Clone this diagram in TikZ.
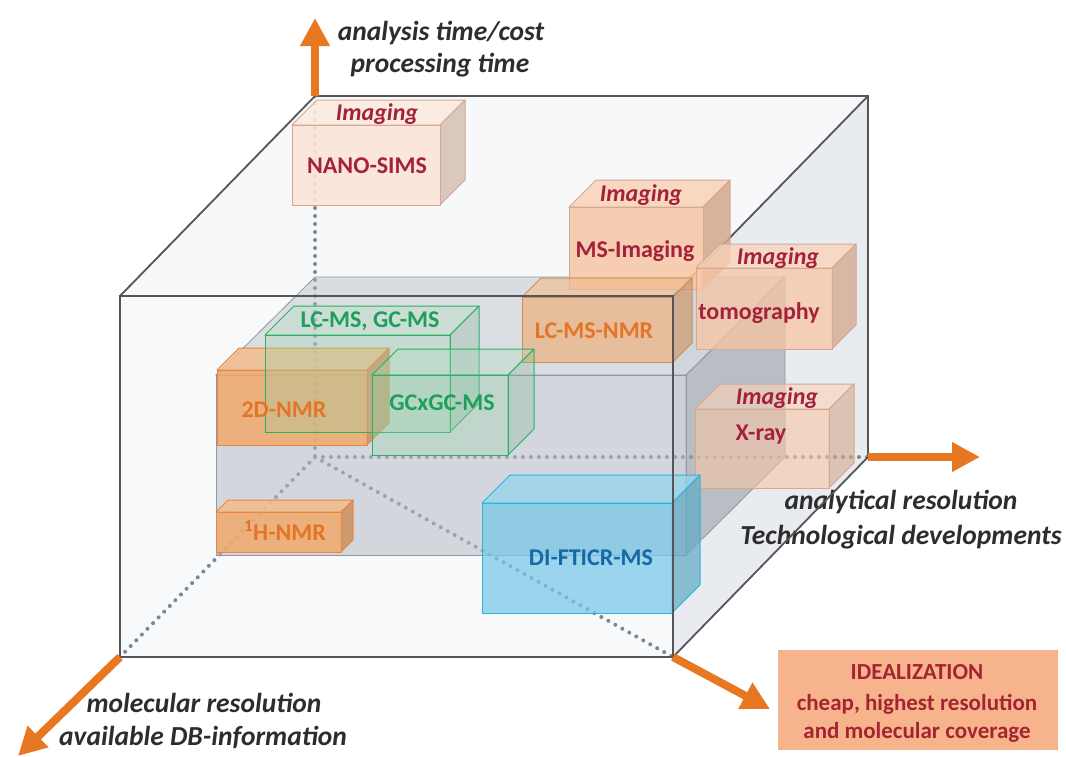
\documentclass[tikz,border=0pt]{standalone}
\usepackage{fontspec}
\setmainfont{Carlito}
\usetikzlibrary{arrows.meta}
\definecolor{axisor}{RGB}{232,119,34}
\definecolor{edgegray}{RGB}{85,85,88}
\definecolor{dotgray}{RGB}{128,134,144}
\definecolor{innergray}{RGB}{182,188,198}
\definecolor{topface}{RGB}{247,248,249}
\definecolor{rightface}{RGB}{232,235,239}
\definecolor{frontface}{RGB}{248,249,250}
\definecolor{peachlight}{RGB}{251,229,216}
\definecolor{peach}{RGB}{248,198,165}
\definecolor{peachedge}{RGB}{214,168,146}
\definecolor{crimson}{RGB}{165,32,58}
\definecolor{nmrfill}{RGB}{240,170,108}
\definecolor{nmredge}{RGB}{232,135,66}
\definecolor{nmrtext}{RGB}{228,116,38}
\definecolor{gfill}{RGB}{150,212,170}
\definecolor{gedge}{RGB}{40,178,100}
\definecolor{gtext}{RGB}{28,160,92}
\definecolor{bfill}{RGB}{118,200,232}
\definecolor{bedge}{RGB}{38,182,226}
\definecolor{btext}{RGB}{24,104,168}
\definecolor{idealfill}{RGB}{247,180,140}
\definecolor{idealtext}{RGB}{165,36,52}
\definecolor{labelgray}{RGB}{45,45,45}

% x1,y1,x2,y2 (front face), depth, fill, edge, opacity
\newcommand{\cuboid}[8]{%
  \filldraw[fill=#6!78!white,draw=#7,fill opacity=#8,line width=1pt,line join=round]
    (#1,#2) -- (#1+#5,#2-#5) -- (#3+#5,#2-#5) -- (#3,#2) -- cycle;
  \filldraw[fill=#6!85!black,draw=#7,fill opacity=#8,line width=1pt,line join=round]
    (#3,#2) -- (#3+#5,#2-#5) -- (#3+#5,#4-#5) -- (#3,#4) -- cycle;
  \filldraw[fill=#6,draw=#7,fill opacity=#8,line width=1pt]
    (#1,#2) rectangle (#3,#4);
}

\begin{document}
\begin{tikzpicture}[x=1pt,y=-1pt,
  cubeedge/.style={draw=edgegray,line width=1.8pt},
  dotline/.style={draw=dotgray,line width=4pt,line cap=round,dash pattern=on 0pt off 8pt},
  axarrow/.style={draw=axisor,line width=8pt,-{Triangle[length=28pt,width=28pt]}},
  txt/.style={inner sep=0pt,text height=1.5ex,text depth=.25ex,yshift=-5pt},
  boxlab/.style={txt,font=\fontsize{24}{28}\selectfont\bfseries},
  imglab/.style={txt,font=\fontsize{24}{28}\selectfont\bfseries\itshape,text=crimson},
  axlab/.style={txt,font=\fontsize{27.5}{32}\selectfont\bfseries\itshape,text=labelgray},
  idlab/.style={txt,font=\fontsize{23}{27}\selectfont\bfseries,text=idealtext}]

\useasboundingbox[fill=white] (0,0) rectangle (1066,756);

% cube corners
\coordinate (FTL) at (120,296);
\coordinate (FTR) at (673,296);
\coordinate (FBR) at (673,657);
\coordinate (FBL) at (120,657);
\coordinate (BTL) at (315,96);
\coordinate (BTR) at (868,96);
\coordinate (BBR) at (868,457);
\coordinate (O) at (315,457);

% cube faces
\fill[topface] (FTL) -- (BTL) -- (BTR) -- (FTR) -- cycle;
\fill[rightface] (FTR) -- (BTR) -- (BBR) -- (FBR) -- cycle;
\fill[frontface] (FTL) rectangle (FBR);

% back edges
\draw[cubeedge] (BTL) -- (BTR) -- (BBR);
\draw[cubeedge] (FTR) -- (BTR);
\draw[dotline] (BTL) -- (O);
\draw[dotline] (O) -- (BBR);
\draw[dotline] (O) -- (FBL);
\draw[dotline] (O) -- (FBR);

% inner grey box
\coordinate (IBTL) at (315,277);
\coordinate (IBTR) at (785,277);
\coordinate (IBBR) at (785,457);
\coordinate (IFTL) at (216,375);
\coordinate (IFTR) at (686,375);
\coordinate (IFBR) at (686,555);
\coordinate (IFBL) at (216,555);
\filldraw[fill=innergray,fill opacity=0.45,draw=innergray!80!black,line width=0.8pt]
  (IFTL) -- (IBTL) -- (IBTR) -- (IFTR) -- cycle;
\filldraw[fill=innergray!85!black,fill opacity=0.6,draw=innergray!80!black,line width=0.8pt]
  (IFTR) -- (IBTR) -- (IBBR) -- (IFBR) -- cycle;
\filldraw[fill=innergray,fill opacity=0.55,draw=innergray!80!black,line width=0.8pt]
  (IFTL) rectangle (IFBR);

% boxes (back to front)
\cuboid{292}{125}{440}{205}{25}{peachlight}{peachedge}{0.9}
\cuboid{569}{207}{703}{289}{27}{peach}{peachedge}{0.85}
\cuboid{522}{297}{673}{362}{19}{nmrfill}{nmrfill!85!black}{0.6}
\cuboid{696}{268}{832}{349}{24}{peach}{peachedge}{0.75}
\cuboid{695}{409}{829}{488}{25}{peach}{peachedge}{0.6}
\cuboid{217}{370}{367}{445}{22}{nmrfill}{nmredge}{0.85}
\cuboid{265}{335}{450}{432}{29}{gfill}{gedge}{0.3}
\cuboid{372}{375}{508}{455}{26}{gfill}{gedge}{0.3}
\cuboid{216}{512}{341}{552}{12}{nmrfill}{nmredge}{0.85}
\cuboid{482}{503}{672}{613}{28}{bfill}{bedge}{0.72}

% box labels
\node[imglab] (img1) at (377,113) {Imaging};
\node[boxlab,text=crimson] (nano) at (367,166) {NANO-SIMS};
\node[imglab] (img2) at (641,194) {Imaging};
\node[boxlab,text=crimson] (msi) at (635,250) {MS-Imaging};
\node[imglab] (img3) at (778,257) {Imaging};
\node[boxlab,text=crimson] (tomo) at (759,312) {tomography};
\node[imglab] (img4) at (777,397) {Imaging};
\node[boxlab,text=crimson] (xray) at (761,433) {X-ray};
\node[boxlab,text=nmrtext] (lcmsnmr) at (594,331) {LC-MS-NMR};
\node[boxlab,text=gtext] (lcms) at (370,320) {LC-MS, GC-MS};
\node[boxlab,text=nmrtext] (nmr2d) at (284,410) {2D-NMR};
\node[boxlab,text=gtext] (gcgc) at (442,403) {GCxGC-MS};
\node[boxlab,text=nmrtext] (hnmr) at (285,533) {\textsuperscript{1}H-NMR};
\node[boxlab,text=btext] (fticr) at (591,558) {DI-FTICR-MS};

% axis labels
\node[axlab] (ax1a) at (441,33) {analysis time/cost};
\node[axlab] (ax1b) at (440,65) {processing time};
\node[axlab] (ax2a) at (901,502) {analytical resolution};
\node[axlab] (ax2b) at (901,537) {Technological developments};
\node[axlab] (ax3a) at (204,705) {molecular resolution};
\node[axlab] (ax3b) at (203,738) {available DB-information};

% idealization box
\node[fill=idealfill,minimum width=280pt,minimum height=100pt,inner sep=0pt] (ideal) at (918,700) {};
\node[idlab] (id1) at (917,672) {IDEALIZATION};
\node[idlab] (id2) at (917,703) {cheap, highest resolution};
\node[idlab] (id3) at (917,731) {and molecular coverage};

% front edges
\draw[cubeedge] (FTL) rectangle (FBR);
\draw[cubeedge] (FTL) -- (BTL);
\draw[cubeedge] (FBR) -- (BBR);

% axis arrows
\coordinate (Vtip) at (315,18);
\coordinate (Htip) at (980,457);
\coordinate (Dtip) at (18,756);
\coordinate (Itip) at (770,709);
\draw[axarrow] (BTL) -- (Vtip);
\draw[axarrow] (BBR) -- (Htip);
\draw[axarrow] (FBL) -- (Dtip);
\draw[axarrow] (FBR) -- (Itip);
\end{tikzpicture}
\end{document}
